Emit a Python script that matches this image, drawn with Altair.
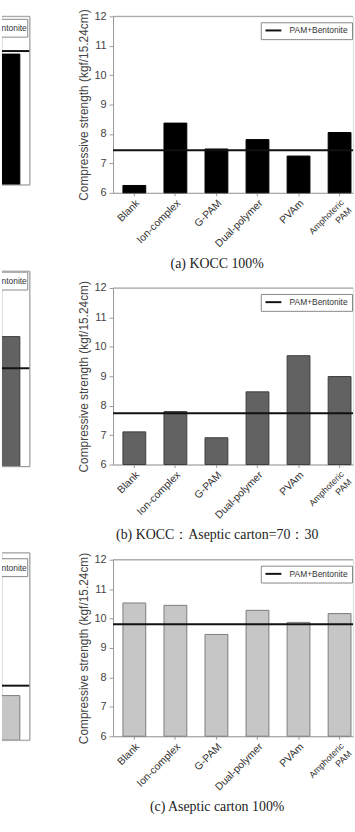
import altair as alt
import pandas as pd

# ---- data ----
categories = ["Blank", "Ion-complex", "G-PAM", "Dual-polymer", "PVAm", "Amphoteric PAM"]
strength_a = [6.25, 8.37, 7.49, 7.81, 7.25, 8.05]
strength_b = [7.11, 7.80, 6.91, 8.47, 9.70, 8.99]
strength_c = [10.53, 10.45, 9.46, 10.28, 9.87, 10.17]
reference_level = [7.45, 7.74, 9.81]          # PAM+Bentonite line
captions = ["(a) KOCC 100%", "(b) KOCC：Aseptic carton=70：30", "(c) Aseptic carton 100%"]
legend_label = "PAM+Bentonite"
y_title = "Compressive strength (kgf/15.24cm)"
y_ticks = [6, 7, 8, 9, 10, 11, 12]
# companion panels on the left (cropped: only the last bar shows), relative units 0-100
left_amphoteric = [77.6, 66.5, 23.8]
left_reference = [79.4, 50.3, 29.1]

# ---- style ----
bar_fill = ["#000000", "#626262", "#c6c6c6"]
bar_stroke = ["#000000", "#3c3c3c", "#7c7c7c"]
frame_color = "#9a9a9a"
SANS = "Liberation Sans"
SERIF = "Liberation Serif"

RIGHT_W, RIGHT_H = 242, 178
LEFT_W = 28
left_heights = [170, 197, 189]
left_legend_y = [3, 1, 6]


def right_panel(i, vals):
    df = pd.DataFrame({"cat": categories, "v": vals})
    ref = pd.DataFrame({"v": [reference_level[i]], "s": [legend_label]})
    xscale = alt.Scale(domain=categories, paddingInner=0.444, paddingOuter=0.145,
                       align=0.83, round=False)
    x = alt.X("cat:N", sort=categories, scale=xscale,
              axis=alt.Axis(title=None, labelAngle=-45, labelAlign="right",
                            labelFontSize={"condition": {"test": "datum.value == 'Amphoteric PAM'", "value": 9},
                                           "value": 10.5},
                            labelExpr="datum.value == 'Amphoteric PAM' ? ['Amphoteric', 'PAM'] : datum.label",
                            tickSize=3, labelPadding=2, domainColor=frame_color,
                            tickColor=frame_color, labelColor="#333", labelFont=SANS))
    yscale = alt.Scale(domain=[6, 12], zero=False, nice=False)
    yaxis = alt.Axis(title=y_title, values=y_ticks, format="d", tickSize=4, labelPadding=3,
                     labelFontSize=11, labelColor="#444", labelFont=SANS,
                     titleFontSize=12, titleFontWeight="normal", titleColor="#444",
                     titleFont=SANS, titlePadding=4, domainColor=frame_color,
                     tickColor=frame_color, grid=False)
    bars = alt.Chart(df).mark_bar(fill=bar_fill[i], stroke=bar_stroke[i], strokeWidth=1).encode(
        x=x, y=alt.Y("v:Q", scale=yscale, axis=yaxis), y2=alt.datum(6))
    rule = alt.Chart(ref).mark_rule(strokeWidth=2).encode(
        y=alt.Y("v:Q", scale=yscale, axis=yaxis),
        color=alt.Color("s:N", scale=alt.Scale(range=["#111111"]),
                        legend=alt.Legend(title=None, orient="none", legendX=149, legendY=6,
                                          symbolType="M-3.2,0L3.2,0", symbolSize=25,
                                          symbolStrokeWidth=2, symbolOffset=4.5, labelOffset=12,
                                          padding=4, strokeColor="#888", fillColor="white",
                                          labelFontSize=8.5, labelFont=SANS, labelColor="#333",
                                          cornerRadius=0)))
    top = alt.Chart(ref).mark_rule(color=frame_color, strokeWidth=1).encode(y=alt.value(0))
    return alt.layer(bars, rule, top).properties(
        width=RIGHT_W, height=RIGHT_H,
        title=alt.TitleParams(captions[i], orient="bottom", anchor="middle", font=SERIF,
                              fontSize=14, fontWeight="normal", color="#222", dx=-16, offset=8))


def left_panel(i):
    h = left_heights[i]
    ly = left_legend_y[i]
    df = pd.DataFrame({"cat": ["Amphoteric PAM"], "v": [left_amphoteric[i]],
                       "r": [left_reference[i]]})
    base = alt.Chart(df)
    xs = alt.Scale(domain=categories, range=[-212, 18], paddingInner=0.444,
                   paddingOuter=0, round=False)
    ys = alt.Scale(domain=[0, 100], nice=False, zero=True)
    bar = base.mark_bar(clip=True, fill=bar_fill[i], stroke=bar_stroke[i], strokeWidth=1).encode(
        x=alt.X("cat:N", scale=xs, axis=None),
        y=alt.Y("v:Q", scale=ys, axis=None), y2=alt.datum(0))
    rule = base.mark_rule(color="#111111", strokeWidth=2).encode(
        y=alt.Y("r:Q", scale=ys, axis=None))
    box = base.mark_rect(clip=True, fill="white", stroke="#888", strokeWidth=1).encode(
        x=alt.value(-90), x2=alt.value(26), y=alt.value(ly), y2=alt.value(ly + 18))
    txt = base.mark_text(clip=True, align="right", baseline="middle", fontSize=8.5,
                         font=SANS, color="#333").encode(
        x=alt.value(25), y=alt.value(ly + 9), text=alt.value(legend_label))
    f_top = base.mark_rule(color=frame_color).encode(y=alt.value(0))
    f_bot = base.mark_rule(color=frame_color).encode(y=alt.value("height"))
    f_right = base.mark_rule(color=frame_color).encode(x=alt.value("width"))
    return alt.layer(bar, rule, box, txt, f_top, f_bot, f_right).properties(
        width=LEFT_W, height=h)


left_col = alt.vconcat(left_panel(0), left_panel(1), left_panel(2), spacing=87, bounds="flush")
right_col = alt.vconcat(right_panel(0, strength_a), right_panel(1, strength_b),
                        right_panel(2, strength_c), spacing=96, bounds="flush"
                        ).resolve_scale(color="independent").resolve_legend(color="independent")

chart = alt.hconcat(left_col, right_col, spacing=45).properties(
    padding={"left": 0, "top": 4, "right": 0, "bottom": 0}
).configure_view(stroke="transparent").configure(background="white")

chart.save("out.html", embed_options={"renderer": "svg", "actions": False})
